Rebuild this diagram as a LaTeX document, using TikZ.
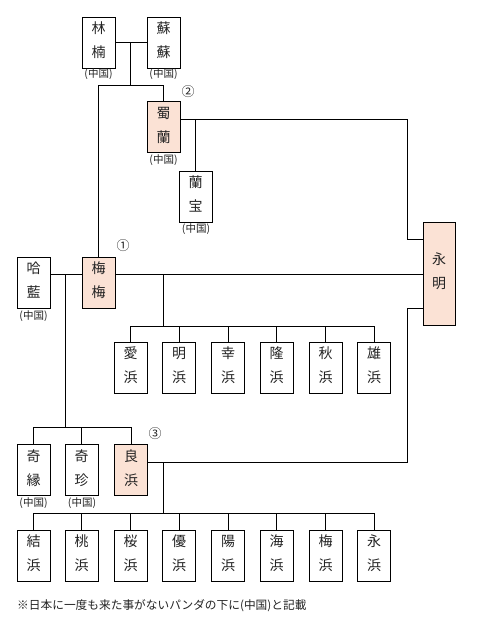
\documentclass[tikz,border=0pt]{standalone}
\usepackage{fontspec}
\newfontfamily\jp{Noto Sans CJK JP}
\definecolor{peach}{RGB}{251,226,213}
\definecolor{txt}{RGB}{35,35,35}
\begin{document}
\begin{tikzpicture}[x=1pt,y=-1pt,
  panda/.style={draw=black, line width=0.9pt, fill=white, minimum width=33pt, minimum height=51pt, inner sep=0pt, align=center, font=\jp\fontsize{14}{24}\selectfont, text=txt, text height=32pt, text depth=1.4pt},
  hl/.style={fill=peach},
  cn/.style={font=\jp\fontsize{10.5}{12}\selectfont, text=txt, inner sep=0pt},
  num/.style={font=\jp\fontsize{13}{15}\selectfont, text=txt, inner sep=0pt},
  link/.style={line width=0.9pt, draw=black}]
\useasboundingbox[fill=white] (0,0) rectangle (478,626);
% generation 1
\node[panda] (LN) at (98.5,42.5) {林\\楠};
\node[panda] (SS) at (163.5,42.5) {蘇\\蘇};
\node[panda,hl] (SR) at (163.5,127) {蜀\\蘭};
\node[panda] (RB) at (195.5,196.5) {蘭\\宝};
\node[panda] (HL) at (33.5,282.5) {哈\\藍};
\node[panda,hl] (MM) at (98.5,282.5) {梅\\梅};
\node[panda,hl,minimum width=32pt,minimum height=103pt] (EM) at (439,273.5) {永\\明};
% row 1 children
\node[panda] (A1) at (130.5,367.5) {愛\\浜};
\node[panda] (A2) at (179,367.5) {明\\浜};
\node[panda] (A3) at (228,367.5) {幸\\浜};
\node[panda] (A4) at (276.5,367.5) {隆\\浜};
\node[panda] (A5) at (325.5,367.5) {秋\\浜};
\node[panda] (A6) at (374,367.5) {雄\\浜};
% row 2
\node[panda] (QY) at (33.5,470) {奇\\縁};
\node[panda] (QZ) at (81.5,470) {奇\\珍};
\node[panda,hl] (LB) at (131,470) {良\\浜};
% row 3
\node[panda] (B1) at (33.5,555.5) {結\\浜};
\node[panda] (B2) at (81.5,555.5) {桃\\浜};
\node[panda] (B3) at (130.5,555.5) {桜\\浜};
\node[panda] (B4) at (179,555.5) {優\\浜};
\node[panda] (B5) at (228,555.5) {陽\\浜};
\node[panda] (B6) at (276.5,555.5) {海\\浜};
\node[panda] (B7) at (325.5,555.5) {梅\\浜};
\node[panda] (B8) at (374,555.5) {永\\浜};
% labels
\node[cn] (cLN) at (98.5,74) {(中国)};
\node[cn] (cSS) at (163.5,74) {(中国)};
\node[cn] (cSR) at (163.5,160.5) {(中国)};
\node[cn] (cRB) at (196,229) {(中国)};
\node[cn] (cHL) at (33.5,316) {(中国)};
\node[cn] (cQY) at (33.5,503) {(中国)};
\node[cn] (cQZ) at (82,503) {(中国)};
\node[num] (n1) at (123,246) {①};
\node[num] (n2) at (188,92) {②};
\node[num] (n3) at (155,434) {③};
\node[anchor=west, inner sep=0pt, font=\jp\fontsize{11.7}{13}\selectfont, text=txt] (note) at (17,606) {※日本に一度も来た事がないパンダの下に(中国)と記載};
% junction coordinates
\coordinate (j1) at (130,42.5);
\coordinate (j2) at (130,85);
\coordinate (r1) at (407,119);
\coordinate (r2) at (407,239);
\coordinate (r3) at (407,308);
\coordinate (r4) at (407,462);
\coordinate (m1) at (65,274);
\coordinate (q1) at (65,427);
\coordinate (c1) at (163,274);
\coordinate (c2) at (163,326);
\coordinate (l1) at (163,462);
\coordinate (l2) at (163,513);
% connectors
\draw[link] (LN.east) -- (SS.west);
\draw[link] (j1) -- (j2);
\draw[link] (MM.north) |- (SR.north |- j2) -- (SR.north);
\draw[link] (SR.east |- r1) -- (r1) -- (r2) -- (EM.west |- r2);
\draw[link] (RB.north |- r1) -- (RB.north);
\draw[link] (HL.east |- m1) -- (MM.west |- m1);
\draw[link] (MM.east |- m1) -- (EM.west |- m1);
\draw[link] (m1) -- (q1);
\draw[link] (QY.north) |- (LB.north |- q1) -- (LB.north);
\draw[link] (QZ.north |- q1) -- (QZ.north);
\draw[link] (c1) -- (c2);
\draw[link] (A1.north) |- (A6.north |- c2) -- (A6.north);
\foreach \n in {A2,A3,A4,A5} \draw[link] (\n.north |- c2) -- (\n.north);
\draw[link] (LB.east |- r4) -- (r4) -- (r3) -- (EM.west |- r3);
\draw[link] (l1) -- (l2);
\draw[link] (B1.north) |- (B8.north |- l2) -- (B8.north);
\foreach \n in {B2,B3,B4,B5,B6,B7} \draw[link] (\n.north |- l2) -- (\n.north);
\end{tikzpicture}
\end{document}
